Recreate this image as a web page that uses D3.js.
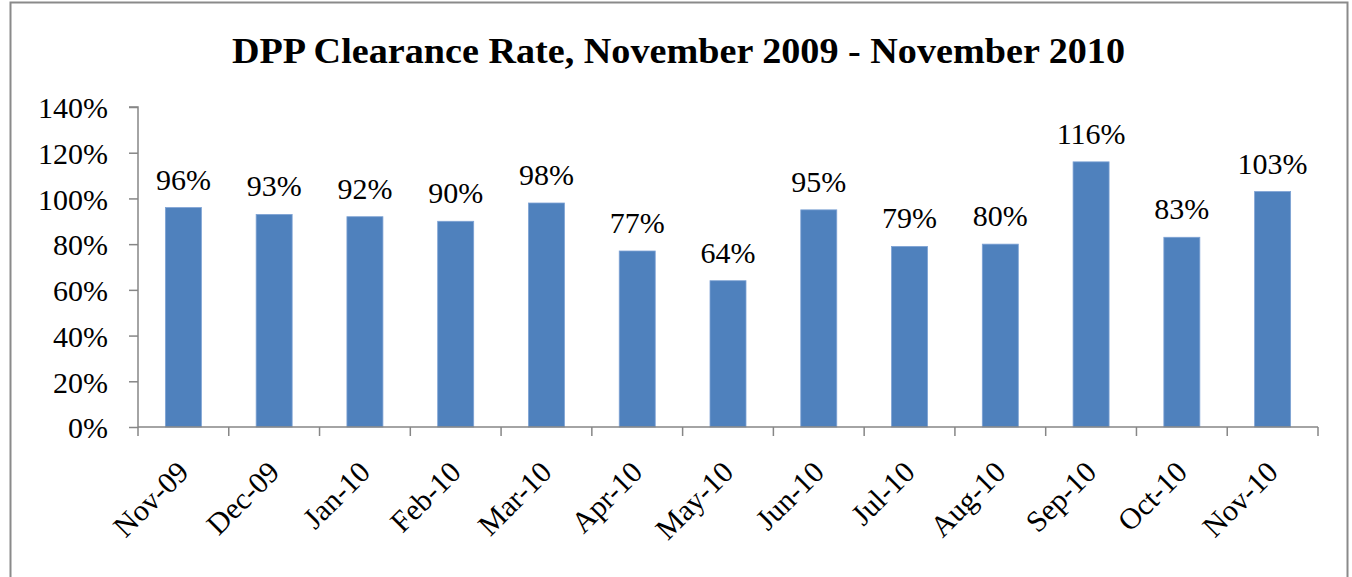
<!DOCTYPE html>
<html>
<head>
<meta charset="utf-8">
<script src="https://cdn.jsdelivr.net/npm/d3@7"></script>
<style>
  html, body { margin: 0; padding: 0; background: #fff; }
  svg { display: block; }
  text { font-family: "Liberation Serif", "Times New Roman", serif; fill: #000; }
</style>
</head>
<body>
<svg id="chart" width="1352" height="577"></svg>
<script>
const title = "DPP Clearance Rate, November 2009 - November 2010";
const categories = ["Nov-09","Dec-09","Jan-10","Feb-10","Mar-10","Apr-10","May-10","Jun-10","Jul-10","Aug-10","Sep-10","Oct-10","Nov-10"];
const values = [96, 93, 92, 90, 98, 77, 64, 95, 79, 80, 116, 83, 103];
const yTicks = [0, 20, 40, 60, 80, 100, 120, 140];

const svg = d3.select("#chart");
const plot = { left: 138, right: 1318, top: 107, bottom: 427 };

// outer frame
svg.append("rect")
  .attr("x", 10.5).attr("y", 2.5)
  .attr("width", 1337).attr("height", 600)
  .attr("fill", "#fff")
  .attr("stroke", "#8a8a8a").attr("stroke-width", 2);

// title
svg.append("text")
  .attr("x", 678.5).attr("y", 63)
  .attr("text-anchor", "middle")
  .attr("font-size", 35).attr("font-weight", "bold")
  .attr("textLength", 893).attr("lengthAdjust", "spacingAndGlyphs")
  .text(title);

const xb = d3.scaleBand().domain(categories).range([plot.left, plot.right]);
const y = d3.scaleLinear().domain([0, 140]).range([plot.bottom, plot.top]);

// y axis
const yAxis = d3.axisLeft(y).tickValues(yTicks).tickSize(9).tickPadding(21).tickFormat(d => d + "%");
const gy = svg.append("g").attr("transform", `translate(${plot.left},0)`).call(yAxis);
gy.selectAll("path, line").attr("stroke", "#868686").attr("stroke-width", 1.5);
gy.select(".domain").attr("d", `M-9,${plot.top}H0V${plot.bottom}`);
gy.selectAll("text").attr("font-size", 30).attr("font-family", "Liberation Serif").attr("fill", "#000").attr("dy", "0.36em");

// bars
svg.append("g").selectAll("rect").data(values).join("rect")
  .attr("x", (d, i) => xb(categories[i]) + xb.bandwidth() / 2 - 18)
  .attr("width", 36)
  .attr("y", d => y(d))
  .attr("height", d => y(0) - y(d))
  .attr("fill", "#4f81bd")
  .attr("stroke", "#7ea2d4").attr("stroke-width", 0.8);

// x axis
const xAxis = d3.axisBottom(xb).tickSize(0).tickFormat("");
const gx = svg.append("g").attr("transform", `translate(0,${plot.bottom})`).call(xAxis);
gx.select(".domain").attr("stroke", "#868686").attr("stroke-width", 1.5).attr("d", `M${plot.left},0H${plot.right}`);
const bounds = categories.map(c => xb(c)).concat([plot.right]);
gx.selectAll(".bound").data(bounds).join("line").attr("class", "bound")
  .attr("x1", d => d).attr("x2", d => d).attr("y1", 0).attr("y2", 9)
  .attr("stroke", "#868686").attr("stroke-width", 1.5);

// x labels rotated
svg.append("g").selectAll("text").data(categories).join("text")
  .attr("transform", d => `translate(${xb(d) + xb.bandwidth() / 2 + 7},474) rotate(-45)`)
  .attr("text-anchor", "end")
  .attr("font-size", 30)
  .text(d => d);

// data labels
svg.append("g").selectAll("text").data(values).join("text")
  .attr("x", (d, i) => xb(categories[i]) + xb.bandwidth() / 2)
  .attr("y", d => y(d) - 18)
  .attr("text-anchor", "middle")
  .attr("font-size", 30)
  .text(d => d + "%");
</script>
</body>
</html>
